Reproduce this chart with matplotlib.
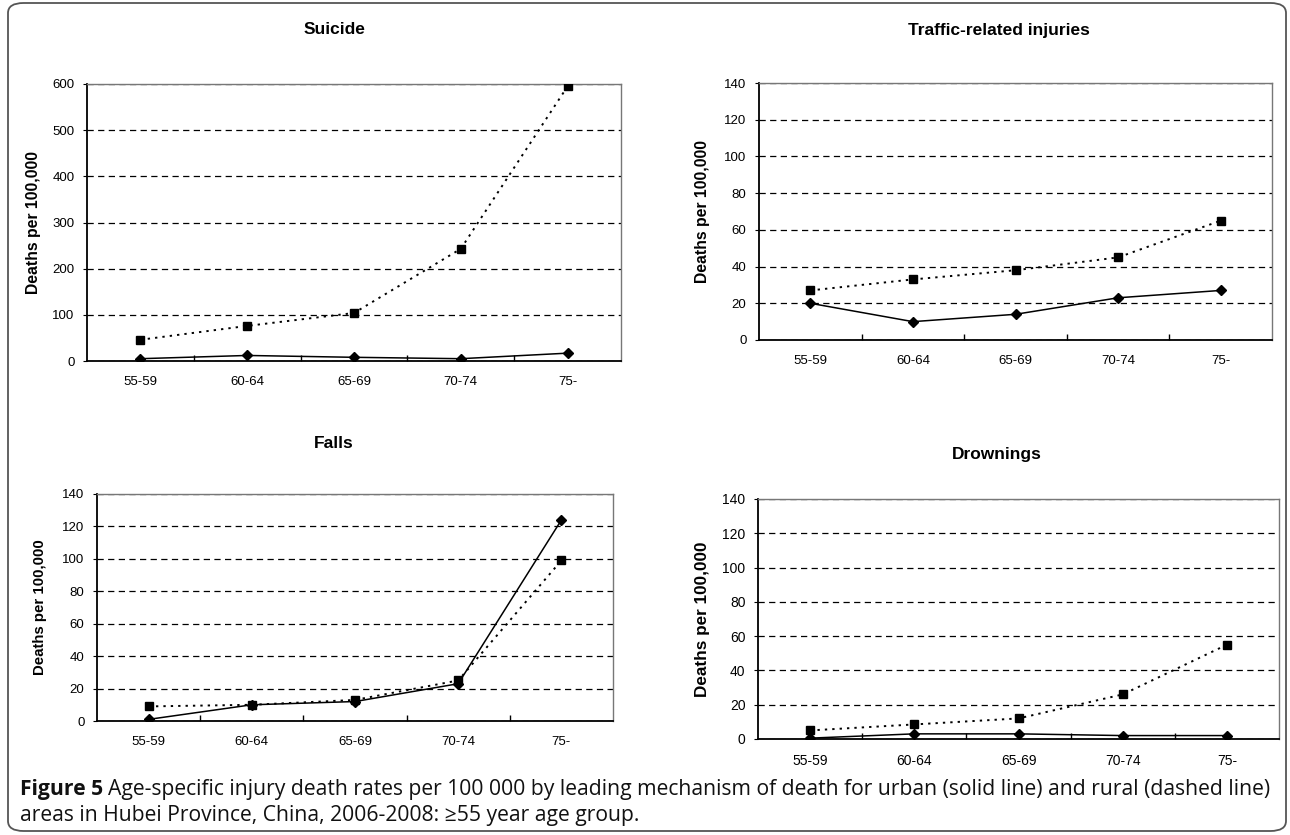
import matplotlib
matplotlib.use('Agg')
import matplotlib.pyplot as plt
from matplotlib.patches import FancyBboxPatch

plt.rcParams['font.family'] = ['Liberation Sans', 'DejaVu Sans']

ages = ['55-59', '60-64', '65-69', '70-74', '75-']

suicide_urban = [5, 12, 8, 5, 17]
suicide_rural = [46, 76, 104, 243, 595]
traffic_urban = [20, 10, 14, 23, 27]
traffic_rural = [27, 33, 38, 45, 65]
falls_urban = [1, 10, 12, 23, 124]
falls_rural = [9, 10, 13, 25, 99]
drown_urban = [0.5, 3, 3, 2, 2]
drown_rural = [5, 8.5, 12, 26, 55]

titles = ['Suicide', 'Traffic-related injuries', 'Falls', 'Drownings']
urban = [suicide_urban, traffic_urban, falls_urban, drown_urban]
rural = [suicide_rural, traffic_rural, falls_rural, drown_rural]
ymax = [600, 140, 140, 140]
ystep = [100, 20, 20, 20]

W, H = 1290, 835
fig = plt.figure(figsize=(W / 100, H / 100), dpi=100)

# rounded frame round the whole figure
frame = FancyBboxPatch((8 / W, 4 / H), 1278 / W, 828 / H,
                       boxstyle='round,pad=0,rounding_size=0.012',
                       transform=fig.transFigure, fill=False,
                       edgecolor='#555555', linewidth=1.3)
fig.patches.append(frame)

# axes boxes in pixels: left, top, right, bottom
boxes = [(87, 84, 621, 361), (759, 83, 1272, 340),
         (97, 494, 613, 721), (758, 499, 1279, 739)]
title_pos = [(334, 30), (999, 30), (334, 443), (997, 455)]
ylab_x = [34, 703, 40, 703]
ylab_size = [11.3, 11.3, 10.8, 12.3]
tick_size = [9.5, 9.5, 9.5, 10]

x = list(range(len(ages)))
for i in range(4):
    l, t, r, b = boxes[i]
    ax = fig.add_axes([l / W, 1 - b / H, (r - l) / W, (b - t) / H])
    ax.plot(x, rural[i], color='black', linestyle=(0, (1.2, 2.6)), lw=1.4,
            marker='s', markersize=6.3, zorder=3)
    ax.plot(x, urban[i], color='black', linestyle='-', lw=1.1,
            marker='D', markersize=5.5, zorder=4)
    ax.set_xlim(-0.5, len(ages) - 0.5)
    ax.set_ylim(0, ymax[i])
    ax.set_yticks(range(0, ymax[i] + 1, ystep[i]))
    ax.set_xticks(x)
    ax.set_xticklabels(ages)
    ax.set_xticks([k + 0.5 for k in x[:-1]], minor=True)
    ax.tick_params(axis='x', which='major', length=0, pad=11, labelsize=tick_size[i])
    ax.tick_params(axis='x', which='minor', direction='in', length=4, width=1)
    ax.tick_params(axis='y', length=3, pad=6, labelsize=tick_size[i])
    ax.yaxis.grid(True, color='black', linestyle=(0, (5, 3.5)), lw=0.9)
    ax.set_axisbelow(True)
    for side in ['left', 'bottom']:
        ax.spines[side].set_linewidth(1.3)
    for side in ['top', 'right']:
        ax.spines[side].set_color('#777777')
        ax.spines[side].set_linewidth(1.0)

    tx, ty = title_pos[i]
    fig.text(tx / W, 1 - ty / H, titles[i], ha='center', va='center',
             fontsize=12.5, fontweight='bold')
    fig.text(ylab_x[i] / W, 1 - (t + b) / 2 / H, 'Deaths per 100,000',
             rotation=90, ha='center', va='center',
             fontsize=ylab_size[i], fontweight='bold')

# caption, bold label followed by the normal text
cap_font = ['Open Sans', 'DejaVu Sans']
cap_size = 15.2
fig.canvas.draw()
renderer = fig.canvas.get_renderer()
lab = fig.text(20 / W, 1 - 790 / H, 'Figure 5', ha='left', va='center',
               fontsize=cap_size, fontweight='bold', family=cap_font,
               color='#111111')
ext = lab.get_window_extent(renderer=renderer)
fig.text((ext.x1 + 5) / W, 1 - 790 / H,
         'Age-specific injury death rates per 100 000 by leading mechanism of death '
         'for urban (solid line) and rural (dashed line)',
         ha='left', va='center', fontsize=cap_size, family=cap_font, color='#111111')
fig.text(20 / W, 1 - 815 / H,
         'areas in Hubei Province, China, 2006-2008: \u226555 year age group.',
         ha='left', va='center', fontsize=cap_size, family=cap_font, color='#111111')

fig.savefig('out.png', dpi=100)
